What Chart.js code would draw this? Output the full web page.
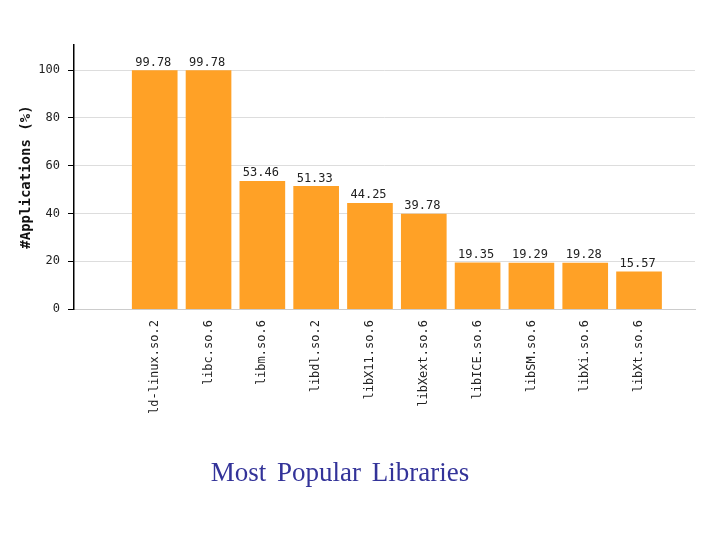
<!DOCTYPE html>
<html>
<head>
<meta charset="utf-8">
<script src="https://cdn.jsdelivr.net/npm/chart.js@4"></script>
<style>
body { margin: 0; background: #fff; }
#wrap { position: relative; width: 720px; height: 540px; }
#title { position: absolute; left: 0; width: 680px; top: 457px; text-align: center;
  font-family: "Liberation Serif", serif; font-size: 27px; color: #333399; word-spacing: 4px; }
</style>
</head>
<body>
<div id="wrap">
<canvas id="myChart" width="720" height="540"></canvas>
<div id="title">Most Popular Libraries</div>
</div>
<script>
let libs = ['ld-linux.so.2', 'libc.so.6', 'libm.so.6', 'libdl.so.2', 'libX11.so.6', 'libXext.so.6', 'libICE.so.6', 'libSM.so.6', 'libXi.so.6', 'libXt.so.6'];
let apps = [99.78, 99.78, 53.46, 51.33, 44.25, 39.78, 19.35, 19.29, 19.28, 15.57];

const mono = '"DejaVu Sans Mono", monospace';

const valueLabels = {
    id: 'valueLabels',
    afterDatasetsDraw(chart) {
        const ctx = chart.ctx;
        ctx.save();
        ctx.font = '12px ' + mono;
        ctx.fillStyle = '#222';
        ctx.textAlign = 'left';
        ctx.textBaseline = 'bottom';
        chart.getDatasetMeta(0).data.forEach((bar, i) => {
            ctx.fillText(apps[i].toFixed(2), bar.x - bar.width / 2 + 3, bar.y - 2);
        });
        ctx.restore();
    }
};

let context = document.getElementById('myChart').getContext('2d');
let chart = new Chart(context, {
    type: 'bar',
    data: {
        datasets: [{
            data: apps.map((v, i) => ({ x: i, y: v })),
            backgroundColor: '#FFA126',
            barThickness: 45
        }]
    },
    options: {
        responsive: false,
        animation: false,
        layout: { padding: { top: 45, right: 25, bottom: 123, left: 14 } },
        plugins: { legend: { display: false }, tooltip: { enabled: false } },
        scales: {
            x: {
                type: 'linear',
                offset: false,
                min: -1.5,
                max: 10.04,
                afterBuildTicks: axis => { axis.ticks = libs.map((l, i) => ({ value: i })); },
                ticks: {
                    autoSkip: false,
                    minRotation: 90,
                    maxRotation: 90,
                    color: '#222',
                    font: { family: mono, size: 12 },
                    callback: v => libs[v] || ''
                },
                grid: { display: false },
                border: { color: '#ccc' }
            },
            y: {
                min: 0,
                max: 110.5,
                afterBuildTicks: axis => { axis.ticks = [0, 20, 40, 60, 80, 100].map(v => ({ value: v })); },
                afterFit: axis => { axis.width = 60; },
                ticks: { color: '#222', font: { family: mono, size: 12 }, padding: 8 },
                grid: { color: '#ddd', tickColor: '#000', tickLength: 6 },
                border: { color: '#000', width: 1.5 },
                title: {
                    display: true,
                    text: '#Applications (%)',
                    color: '#111',
                    font: { family: mono, size: 14, weight: 'bold' }
                }
            }
        }
    },
    plugins: [valueLabels]
});
</script>
</body>
</html>
